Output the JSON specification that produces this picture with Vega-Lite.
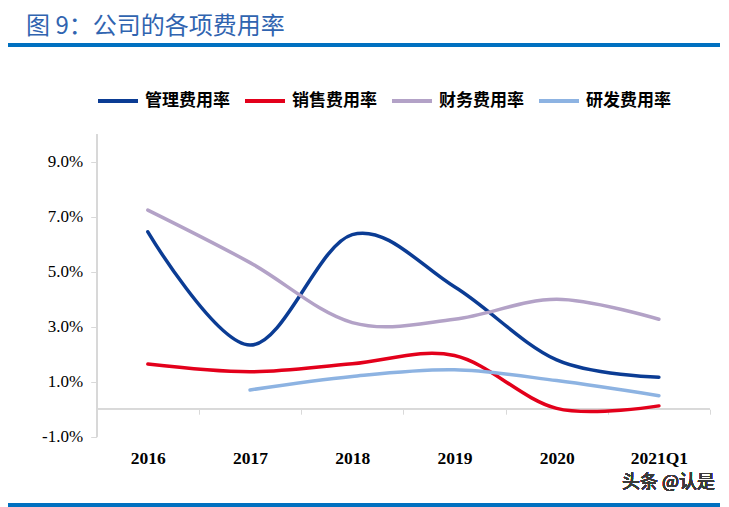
{
  "$schema": "https://vega.github.io/schema/vega-lite/v6.json",
  "width": 712,
  "height": 460,
  "autosize": {"type": "none"},
  "padding": {"left": 8, "top": 45, "right": 9, "bottom": 2},
  "background": "#ffffff",
  "config": {
    "view": {"stroke": null},
    "locale": {
      "number": {"decimal": ".", "thousands": ",", "grouping": [3], "currency": ["$", ""], "minus": "-"}
    }
  },
  "title": {
    "text": "图 9：公司的各项费用率",
    "anchor": "start",
    "frame": "group",
    "font": "Noto Sans CJK SC",
    "fontSize": 24,
    "fontWeight": "normal",
    "color": "#3064b0",
    "baseline": "alphabetic",
    "offset": 9,
    "dx": 18,
    "dy": 23
  },
  "data": {
    "values": [
      {"year": "2016", "series": "管理费用率", "value": 0.0645},
      {"year": "2017", "series": "管理费用率", "value": 0.0233},
      {"year": "2018", "series": "管理费用率", "value": 0.0635},
      {"year": "2019", "series": "管理费用率", "value": 0.0445},
      {"year": "2020", "series": "管理费用率", "value": 0.0179},
      {"year": "2021Q1", "series": "管理费用率", "value": 0.0116},
      {"year": "2016", "series": "销售费用率", "value": 0.0164},
      {"year": "2017", "series": "销售费用率", "value": 0.0136},
      {"year": "2018", "series": "销售费用率", "value": 0.0165},
      {"year": "2019", "series": "销售费用率", "value": 0.0195},
      {"year": "2020", "series": "销售费用率", "value": 0.0003},
      {"year": "2021Q1", "series": "销售费用率", "value": 0.0012},
      {"year": "2016", "series": "财务费用率", "value": 0.0724},
      {"year": "2017", "series": "财务费用率", "value": 0.0533},
      {"year": "2018", "series": "财务费用率", "value": 0.0315},
      {"year": "2019", "series": "财务费用率", "value": 0.0327},
      {"year": "2020", "series": "财务费用率", "value": 0.04},
      {"year": "2021Q1", "series": "财务费用率", "value": 0.0327},
      {"year": "2017", "series": "研发费用率", "value": 0.007},
      {"year": "2018", "series": "研发费用率", "value": 0.0119},
      {"year": "2019", "series": "研发费用率", "value": 0.0143},
      {"year": "2020", "series": "研发费用率", "value": 0.0104},
      {"year": "2021Q1", "series": "研发费用率", "value": 0.0049}
    ]
  },
  "layer": [
    {
      "mark": {"type": "rule", "color": "#0070c0", "strokeWidth": 2.5},
      "encoding": {
        "y": {"datum": 0.13244, "type": "quantitative", "title": null}
      }
    },
    {
      "mark": {"type": "rule", "color": "#0070c0", "strokeWidth": 3},
      "encoding": {
        "y": {"datum": -0.03484, "type": "quantitative", "title": null}
      }
    },
    {
      "mark": {"type": "rule", "color": "#d9d9d9", "strokeWidth": 1},
      "encoding": {
        "x": {"datum": "2016", "type": "nominal", "bandPosition": 0, "title": null},
        "y": {"datum": -0.01, "type": "quantitative", "title": null},
        "y2": {"datum": 0.1}
      }
    },
    {
      "mark": {"type": "rule", "color": "#d9d9d9", "strokeWidth": 1},
      "encoding": {
        "x": {"datum": "2016", "type": "nominal", "bandPosition": 0, "title": null},
        "x2": {"datum": "2021Q1", "bandPosition": 1},
        "y": {"datum": 0, "type": "quantitative", "title": null}
      }
    },
    {
      "mark": {"type": "line", "interpolate": "cardinal", "strokeWidth": 3.5, "strokeCap": "round"},
      "encoding": {
        "x": {
          "field": "year",
          "type": "nominal",
          "bandPosition": 0.5,
          "scale": {
            "type": "band",
            "domain": ["2016", "2017", "2018", "2019", "2020", "2021Q1"],
            "paddingInner": 0,
            "paddingOuter": 0.4829,
            "align": 0.8987
          },
          "axis": {
            "title": null,
            "orient": "bottom",
            "offset": -95.8,
            "domain": false,
            "ticks": true,
            "tickBand": "extent",
            "tickSize": 5,
            "tickColor": "#d9d9d9",
            "labelAngle": 0,
            "labelAlign": "center",
            "labelFont": "Liberation Serif",
            "labelFontWeight": "bold",
            "labelFontSize": 17.5,
            "labelColor": "#000000",
            "labelPadding": 44,
            "grid": false
          }
        },
        "y": {
          "field": "value",
          "type": "quantitative",
          "scale": {"domain": [-0.03484, 0.13244], "nice": false, "zero": false},
          "axis": {
            "title": null,
            "offset": -88.7,
            "values": [-0.01, 0.01, 0.03, 0.05, 0.07, 0.09],
            "format": ".1%",
            "domain": false,
            "ticks": true,
            "tickSize": 6,
            "tickColor": "#d9d9d9",
            "labelFont": "Liberation Serif",
            "labelFontSize": 17,
            "labelColor": "#000000",
            "labelPadding": 8,
            "grid": false
          }
        },
        "color": {
          "field": "series",
          "type": "nominal",
          "scale": {
            "domain": ["管理费用率", "销售费用率", "财务费用率", "研发费用率"],
            "range": ["#0b3c94", "#e3001b", "#b3a2c7", "#8db3e2"]
          },
          "legend": {
            "title": null,
            "orient": "none",
            "legendX": 88,
            "legendY": 34,
            "direction": "horizontal",
            "columns": 4,
            "padding": 0,
            "symbolType": "stroke",
            "symbolSize": 1600,
            "symbolStrokeWidth": 4,
            "labelFont": "Noto Sans CJK SC",
            "labelFontWeight": "bold",
            "labelFontSize": 17,
            "labelColor": "#000000",
            "labelOffset": 5,
            "labelLimit": 0,
            "columnPadding": 7
          }
        }
      }
    },
    {
      "mark": {"type": "text", "align": "right", "baseline": "middle", "dx": 5, "font": "Noto Sans CJK SC", "fontSize": 18, "fontWeight": "normal", "color": "#3a3a3a"},
      "encoding": {
        "x": {"datum": "2021Q1", "type": "nominal", "bandPosition": 1, "title": null},
        "y": {"datum": -0.027, "type": "quantitative", "title": null},
        "text": {"value": "头条 @认是"}
      }
    }
  ]
}
